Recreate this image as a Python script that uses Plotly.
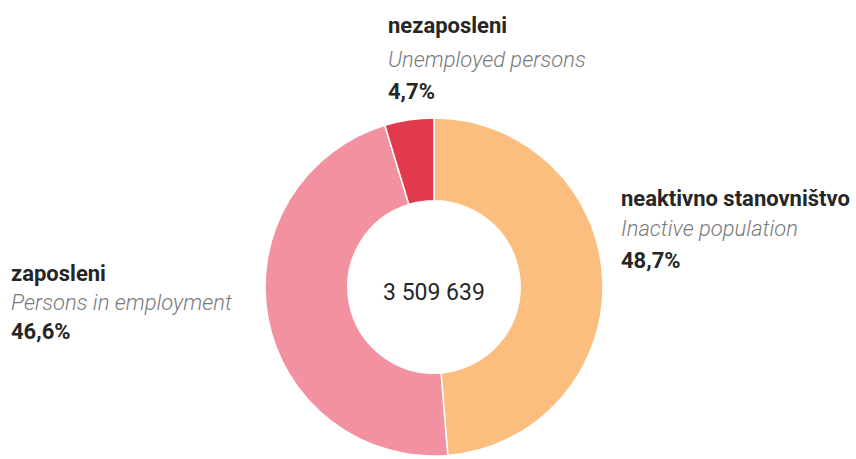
import plotly.graph_objects as go

labels = ["neaktivno stanovništvo", "zaposleni", "nezaposleni"]
labels_en = ["Inactive population", "Persons in employment", "Unemployed persons"]
values = [48.7, 46.6, 4.7]
value_labels = ["48,7%", "46,6%", "4,7%"]
total_label = "3 509 639"
colors = ["#FBBE7E", "#F2919F", "#E23A4D"]

W, H = 856, 459
cx, cy, r = 434, 287, 169

FONT = "Roboto, Liberation Sans Narrow, sans-serif"

fig = go.Figure(go.Pie(
    labels=labels, values=values, sort=False, direction="clockwise", rotation=0,
    hole=0.51, marker=dict(colors=colors, line=dict(color="white", width=1.5)),
    textinfo="none", hoverinfo="label+value", showlegend=False,
    domain=dict(x=[(cx - r) / W, (cx + r) / W], y=[(H - cy - r) / H, (H - cy + r) / H]),
))

def px(x):
    return x / W

def py(y):
    return 1 - y / H

# label blocks: (x_left, y centres of the 3 lines)
blocks = {
    0: (622, [199, 229, 260]),
    1: (12, [273, 302, 331]),
    2: (389, [26, 59, 91]),
}
anns = []
for i, (xl, ys) in blocks.items():
    anns.append(dict(x=px(xl), y=py(ys[0]), text="<b>" + labels[i] + "</b>",
                     font=dict(family=FONT, size=22, color="#262626")))
    anns.append(dict(x=px(xl), y=py(ys[1]), text="<i>" + labels_en[i] + "</i>",
                     font=dict(family=FONT, size=22, color="#7a7a7a", weight=300)))
    anns.append(dict(x=px(xl), y=py(ys[2]), text="<b>" + value_labels[i] + "</b>",
                     font=dict(family=FONT, size=22, color="#262626")))
for a in anns:
    a.update(xref="paper", yref="paper", xanchor="left", yanchor="middle", showarrow=False,
             xshift=-3)

anns.append(dict(x=px(cx), y=py(292), xref="paper", yref="paper", showarrow=False,
                 xanchor="center", yanchor="middle", text=total_label,
                 font=dict(family=FONT, size=23, color="#262626")))

fig.update_layout(width=W, height=H, margin=dict(l=0, r=0, t=0, b=0),
                  paper_bgcolor="white", plot_bgcolor="white", annotations=anns)

fig.write_html("out.html", config={"displayModeBar": False},
               post_script="document.body.style.margin='0';")
